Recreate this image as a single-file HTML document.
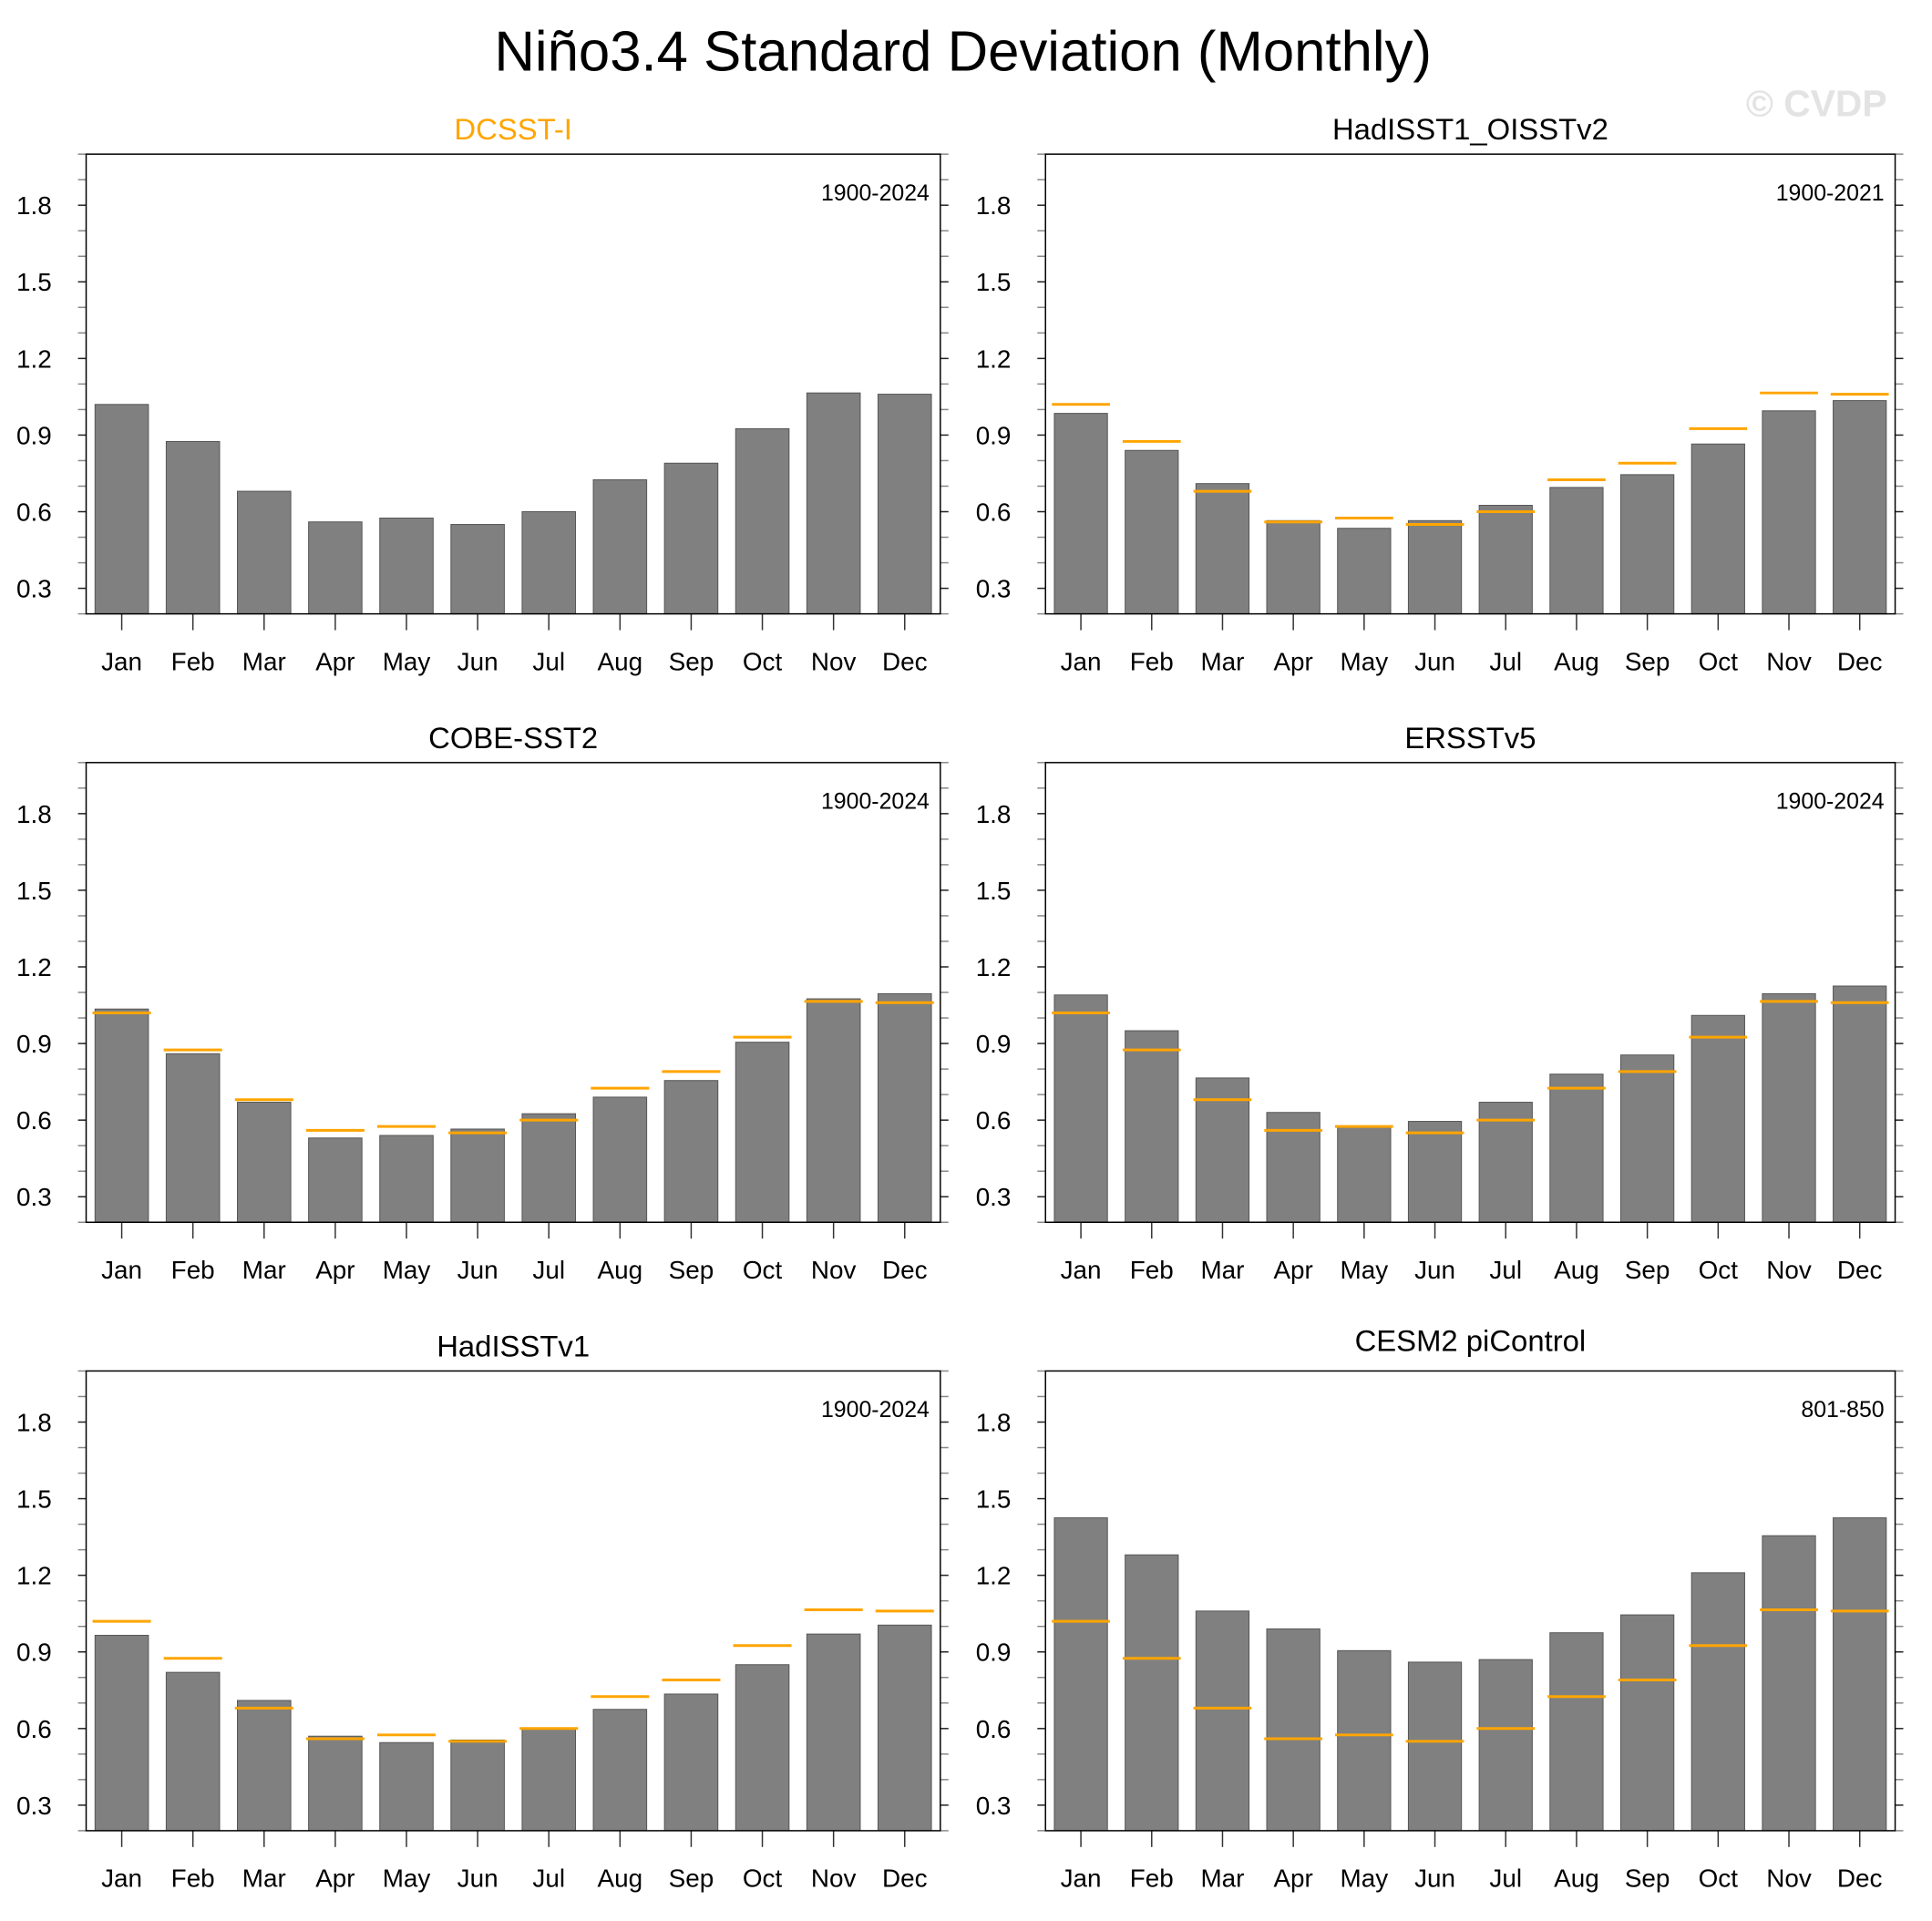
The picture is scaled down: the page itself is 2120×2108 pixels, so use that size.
<!DOCTYPE html>
<html><head><meta charset="utf-8"><style>
html,body{margin:0;padding:0;background:#fff;}
svg{display:block;font-family:"Liberation Sans",Arial,sans-serif;}
</style></head><body>
<svg width="2120" height="2108" viewBox="0 0 2120 2108" xmlns="http://www.w3.org/2000/svg">
<g id="fig" transform="scale(0.995)">
<text x="1062" y="78" font-size="62" text-anchor="middle" fill="#000">Niño3.4 Standard Deviation (Monthly)</text>
<text x="2081" y="128" font-size="41" font-weight="bold" text-anchor="end" fill="#e3e3e3">© CVDP</text>
</g>
</svg>
<script>
const months = ["Jan","Feb","Mar","Apr","May","Jun","Jul","Aug","Sep","Oct","Nov","Dec"];
const yTicks = [0.3,0.6,0.9,1.2,1.5,1.8];
const yTickLabels = ["0.3","0.6","0.9","1.2","1.5","1.8"];
const refValues = [1.02,0.875,0.68,0.56,0.575,0.55,0.60,0.725,0.79,0.925,1.065,1.06];
const dcsstValues = [1.02,0.875,0.68,0.56,0.575,0.55,0.60,0.725,0.79,0.925,1.065,1.06];
const hadOiValues = [0.985,0.84,0.71,0.565,0.535,0.565,0.625,0.695,0.745,0.865,0.995,1.035];
const cobeValues = [1.035,0.86,0.67,0.53,0.54,0.565,0.625,0.69,0.755,0.905,1.075,1.095];
const ersstValues = [1.09,0.95,0.765,0.63,0.575,0.595,0.67,0.78,0.855,1.01,1.095,1.125];
const hadV1Values = [0.965,0.82,0.71,0.57,0.545,0.555,0.60,0.675,0.735,0.85,0.97,1.005];
const cesmValues = [1.425,1.28,1.06,0.99,0.905,0.86,0.87,0.975,1.045,1.21,1.355,1.425];
const panelTitles = ["DCSST-I","HadISST1_OISSTv2","COBE-SST2","ERSSTv5","HadISSTv1","CESM2 piControl"];
const panelPeriods = ["1900-2024","1900-2021","1900-2024","1900-2024","1900-2024","801-850"];
const panelSeries = [dcsstValues,hadOiValues,cobeValues,ersstValues,hadV1Values,cesmValues];

const NS="http://www.w3.org/2000/svg";
const svg=document.getElementById('fig');
function mk(tag,attrs,parent){const e=document.createElementNS(NS,tag);for(const k in attrs)e.setAttribute(k,attrs[k]);(parent||svg).appendChild(e);return e;}
const cols=[[95,1037],[1153,2090]];
const rows=[[170,677],[841,1348],[1512,2019]];
const YMIN=0.2,YMAX=2.0;
for(let p=0;p<6;p++){
  const [x0,x1]=cols[p%2];const [y0,y1]=rows[Math.floor(p/2)];
  const g=mk('g',{});
  
  
  const yS=v=>y1-(v-YMIN)/(YMAX-YMIN)*(y1-y0);
  const step=(x1-x0)/12;
  const xS=i=>x0+step*(i+0.5);
  const t=mk('text',{x:(x0+x1)/2,y:y0-(p===5?22:16),'font-size':33,'text-anchor':'middle',fill:p===0?'#ffa500':'#000'},g);
  t.textContent=panelTitles[p];
  
  
  const d=mk('text',{x:x1-12,y:y0+51,'font-size':25,'text-anchor':'end',fill:'#000'},g);
  d.textContent=panelPeriods[p];
  
  
  const vals=panelSeries[p];
  for(let i=0;i<12;i++){
    const bw=step*0.75;
    const r=mk('rect',{x:xS(i)-bw/2,y:yS(vals[i]),width:bw,height:y1-yS(vals[i]),fill:'#808080',stroke:'#555','stroke-width':1},g);
    
    
  }
  if(p>0){
    for(let i=0;i<12;i++){
      const hw=step*0.41;
      const l=mk('line',{x1:xS(i)-hw,x2:xS(i)+hw,y1:yS(refValues[i]),y2:yS(refValues[i]),stroke:'#ffa500','stroke-width':3},g);
      
      
    }
  }
  for(let k=2;k<=20;k++){
    const v=k/10;const y=yS(v);const major=yTicks.some(a=>Math.abs(a-v)<1e-6);
    mk('line',{x1:x0-9,x2:x0,y1:y,y2:y,stroke:major?'#222':'#888','stroke-width':1.5},g);
    mk('line',{x1:x1,x2:x1+9,y1:y,y2:y,stroke:major?'#222':'#888','stroke-width':1.5},g);
  }
  yTicks.forEach((v,j)=>{
    const tl=mk('text',{x:x0-38,y:yS(v)+10,'font-size':28,'text-anchor':'end',fill:'#000'},g);
    tl.textContent=yTickLabels[j];
    
    
  });
  for(let i=0;i<12;i++){
    mk('line',{x1:xS(i),x2:xS(i),y1:y1,y2:y1+18,stroke:'#333','stroke-width':1.5},g);
    const ml=mk('text',{x:xS(i),y:y1+62,'font-size':28,'text-anchor':'middle',fill:'#000'},g);
    ml.textContent=months[i];
    
    
  }
  const fr=mk('rect',{x:x0,y:y0,width:x1-x0,height:y1-y0,fill:'none',stroke:'#000','stroke-width':1.5},g);
  
  
}
</script>
</body></html>
